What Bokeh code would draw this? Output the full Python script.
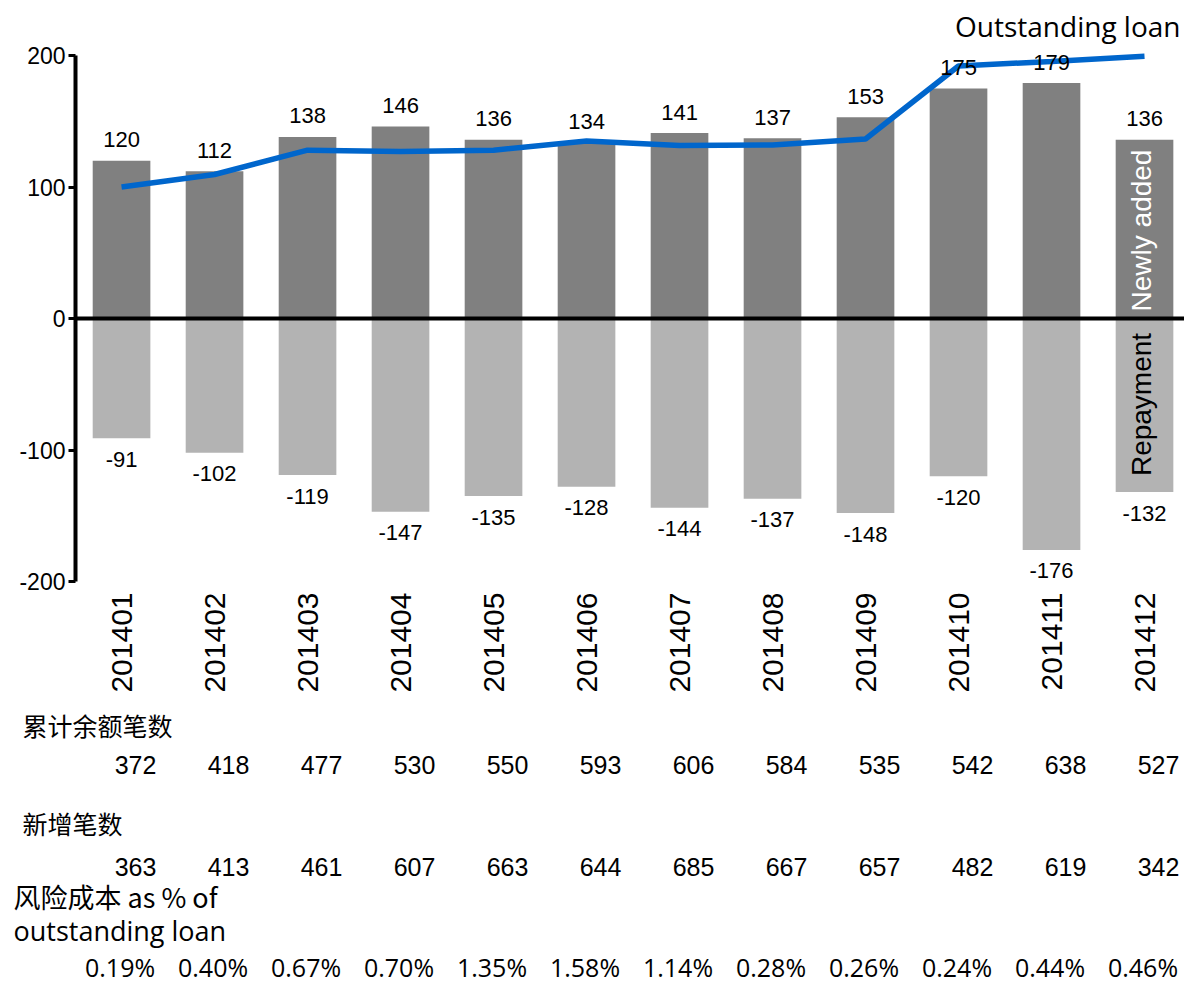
from math import pi
from bokeh.plotting import figure
from bokeh.models import Range1d, FixedTicker, Span, ColumnDataSource
from bokeh.layouts import column, row
from bokeh.core.properties import value
from bokeh.embed import file_html
from bokeh.resources import INLINE

# ---------------- data ----------------
months = ["201401", "201402", "201403", "201404", "201405", "201406",
          "201407", "201408", "201409", "201410", "201411", "201412"]
newly_added = [120, 112, 138, 146, 136, 134, 141, 137, 153, 175, 179, 136]
repayment = [-91, -102, -119, -147, -135, -128, -144, -137, -148, -120, -176, -132]
outstanding_loan = [100, 109.5, 128, 127, 128, 135, 131.5, 132, 136.5, 192, 195.5, 199.5]
cum_count = [372, 418, 477, 530, 550, 593, 606, 584, 535, 542, 638, 527]
new_count = [363, 413, 461, 607, 663, 644, 685, 667, 657, 482, 619, 342]
risk_cost = ["0.19%", "0.40%", "0.67%", "0.70%", "1.35%", "1.58%",
             "1.14%", "0.28%", "0.26%", "0.24%", "0.44%", "0.46%"]
y_ticks = [-200, -100, 0, 100, 200]

# ---------------- layout constants ----------------
K = 1.315          # px per unit on value axis
PX = 93.0          # px per category
LAB_OFF = 16       # label offset from bar end (value units)
idx = list(range(len(months)))
FONT = value("Liberation Sans")

src = ColumnDataSource(dict(
    x=idx, pos=newly_added, neg=repayment, line=outstanding_loan,
    pos_lab=[str(v) for v in newly_added], neg_lab=[str(v) for v in repayment],
    pos_y=[v + LAB_OFF for v in newly_added], neg_y=[v - LAB_OFF for v in repayment],
))

p1 = figure(width=1184, height=705,
            x_range=Range1d(-0.495, 11.43),
            y_range=Range1d(-(590 - 318) / K, 318 / K),
            output_backend="svg", toolbar_location=None,
            min_border_left=75, min_border_right=0, min_border_top=0, min_border_bottom=115)
p1.outline_line_color = None
p1.xgrid.visible = False
p1.ygrid.visible = False

p1.vbar(x="x", top="pos", bottom=0, width=0.62, fill_color="#808080", line_color=None, source=src)
p1.vbar(x="x", top=0, bottom="neg", width=0.62, fill_color="#b3b3b3", line_color=None, source=src)
p1.add_layout(Span(location=0, dimension="width", line_color="black", line_width=4))
p1.line(x="x", y="line", line_color="#0066cc", line_width=5.5, source=src)

p1.text(x="x", y="pos_y", text="pos_lab", text_align="center", text_baseline="middle",
        text_font=FONT, text_font_size="22px", text_color="black", source=src)
p1.text(x="x", y="neg_y", text="neg_lab", text_align="center", text_baseline="middle",
        text_font=FONT, text_font_size="22px", text_color="black", source=src)

p1.text(x=[11.387], y=[(318 - 25) / K], text=["Outstanding loan"], text_align="right",
        text_baseline="middle", text_font=value("Open Sans"), text_font_size="28px", text_color="black")
p1.text(x=[10.97], y=[(318 - 230) / K], text=["Newly added"], angle=pi / 2, text_align="center",
        text_baseline="middle", text_font=FONT, text_font_size="28px", text_color="white")
p1.text(x=[10.97], y=[(318 - 404) / K], text=["Repayment"], angle=pi / 2, text_align="center",
        text_baseline="middle", text_font=FONT, text_font_size="28px", text_color="black")

# y axis
ya = p1.yaxis[0]
ya.ticker = FixedTicker(ticks=y_ticks)
ya.major_label_overrides = {t: str(t) for t in y_ticks}
ya.bounds = (-200, 200)
ya.axis_line_width = 4
ya.axis_line_color = "black"
ya.major_tick_line_width = 3
ya.major_tick_out = 7
ya.major_tick_in = 0
ya.minor_tick_line_color = None
ya.major_label_standoff = 3
ya.major_label_text_font = "Liberation Sans"
ya.major_label_text_font_size = "23px"
ya.major_label_text_color = "black"

# x axis
xa = p1.xaxis[0]
xa.ticker = FixedTicker(ticks=idx)
xa.major_label_overrides = {i: m for i, m in zip(idx, months)}
xa.major_label_orientation = pi / 2
xa.axis_line_color = None
xa.major_tick_line_color = None
xa.minor_tick_line_color = None
xa.major_tick_out = 0
xa.major_label_standoff = 2
xa.major_label_text_font = "Liberation Sans"
xa.major_label_text_font_size = "30px"
xa.major_label_text_color = "black"

# ---------------- table below ----------------
x0 = -0.495 - 75 / PX          # data x of canvas left edge
p2 = figure(width=1184, height=277,
            x_range=Range1d(x0, 11.43), y_range=Range1d(277, 0),
            output_backend="svg", toolbar_location=None,
            x_axis_type=None, y_axis_type=None,
            min_border_left=0, min_border_right=0, min_border_top=0, min_border_bottom=0)
p2.outline_line_color = None
p2.xgrid.visible = False
p2.ygrid.visible = False

TOP = 705
row_label_x = x0 + 22 / PX
row3_label_x = x0 + 13 / PX

def row_label(x, y, txt, font, size):
    p2.text(x=[x], y=[y], text=[txt], text_align="left", text_baseline="middle",
            text_font=value(font), text_font_size=size, text_color="black")

row_label(row_label_x, 724 - TOP, "累计余额笔数", "Noto Sans CJK SC", "25px")
row_label(row_label_x, 822 - TOP, "新增笔数", "Noto Sans CJK SC", "25px")
row_label(row3_label_x, 896 - TOP, "风险成本 as % of", "Noto Sans CJK SC", "27px")
row_label(row3_label_x, 930 - TOP, "outstanding loan", "Open Sans", "27px")

p2.text(x=idx, y=[764 - TOP] * len(idx), text=[str(v) for v in cum_count], x_offset=14,
        text_align="center", text_baseline="middle", text_font=FONT, text_font_size="25px", text_color="black")
p2.text(x=idx, y=[866 - TOP] * len(idx), text=[str(v) for v in new_count], x_offset=14,
        text_align="center", text_baseline="middle", text_font=FONT, text_font_size="25px", text_color="black")
p2.text(x=idx, y=[966 - TOP] * len(idx), text=risk_cost, x_offset=-1.5,
        text_align="center", text_baseline="middle", text_font=value("Open Sans"), text_font_size="25px",
        text_color="black")

layout = column(row(p1), row(p2), spacing=0)
open("out.html", "w").write(file_html(layout, INLINE))
